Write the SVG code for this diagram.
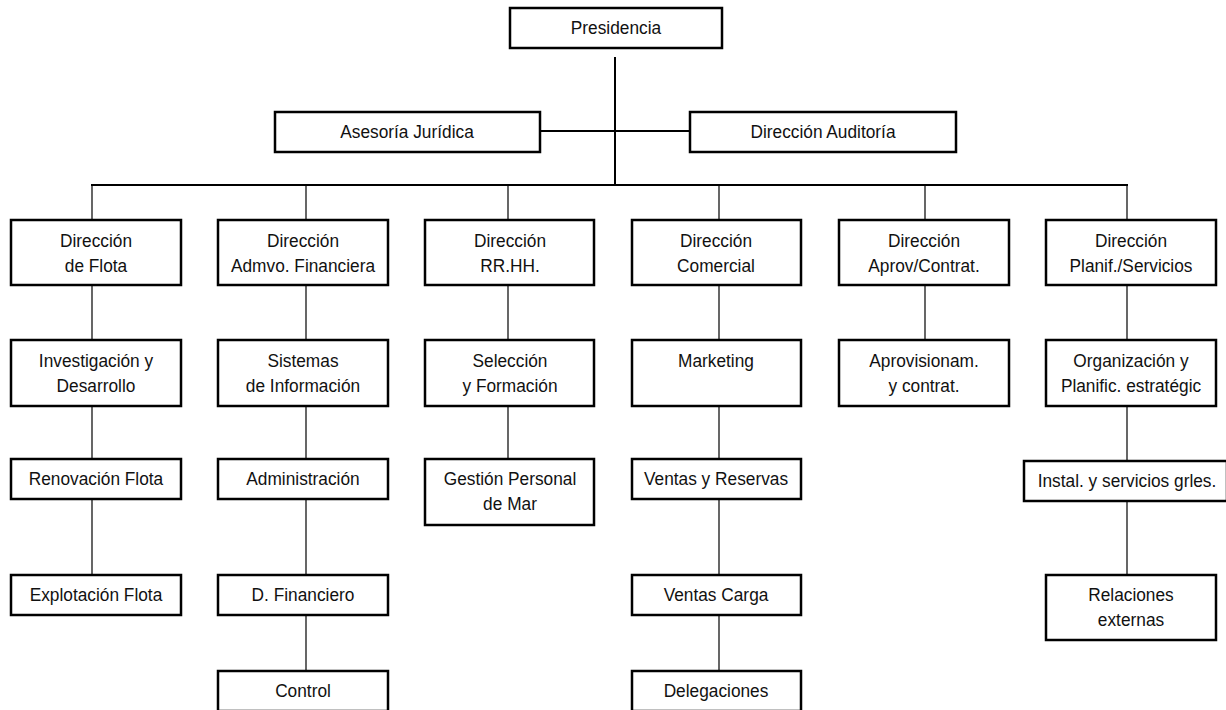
<svg xmlns="http://www.w3.org/2000/svg" width="1226" height="710" viewBox="0 0 1226 710">
<style>
.box{fill:#fff;stroke:#000;stroke-width:2.5}
.t{font-family:"Liberation Sans",Arial,sans-serif;font-size:18.5px;fill:#111;text-anchor:middle;transform-box:fill-box;transform-origin:center;transform:scaleX(0.935)}
.c{stroke:#000;stroke-width:1.2;fill:none}
.cb{stroke:#000;stroke-width:2;fill:none}
</style>
<rect width="1226" height="710" fill="#fff"/>
<g id="connectors">
<line class="cb" x1="615" y1="57" x2="615" y2="186"/>
<line class="cb" x1="541" y1="131" x2="689" y2="131"/>
<line class="cb" x1="91" y1="185" x2="1128" y2="185"/>
<line class="c" x1="92" y1="185" x2="92" y2="219"/>
<line class="c" x1="92" y1="286" x2="92" y2="339"/>
<line class="c" x1="92" y1="407" x2="92" y2="458"/>
<line class="c" x1="92" y1="500" x2="92" y2="574"/>
<line class="c" x1="306" y1="185" x2="306" y2="219"/>
<line class="c" x1="306" y1="286" x2="306" y2="339"/>
<line class="c" x1="306" y1="407" x2="306" y2="458"/>
<line class="c" x1="306" y1="500" x2="306" y2="574"/>
<line class="c" x1="306" y1="616" x2="306" y2="670"/>
<line class="c" x1="508" y1="185" x2="508" y2="219"/>
<line class="c" x1="508" y1="286" x2="508" y2="339"/>
<line class="c" x1="508" y1="407" x2="508" y2="458"/>
<line class="c" x1="719" y1="185" x2="719" y2="219"/>
<line class="c" x1="719" y1="286" x2="719" y2="339"/>
<line class="c" x1="719" y1="407" x2="719" y2="458"/>
<line class="c" x1="719" y1="500" x2="719" y2="574"/>
<line class="c" x1="719" y1="616" x2="719" y2="670"/>
<line class="c" x1="925" y1="185" x2="925" y2="219"/>
<line class="c" x1="925" y1="286" x2="925" y2="339"/>
<line class="c" x1="1127" y1="185" x2="1127" y2="219"/>
<line class="c" x1="1127" y1="286" x2="1127" y2="339"/>
<line class="c" x1="1127" y1="407" x2="1127" y2="460"/>
<line class="c" x1="1127" y1="502" x2="1127" y2="574"/>
</g>
<g id="presidencia"><rect class="box" x="510" y="8" width="212" height="40"/><text class="t" x="616" y="34">Presidencia</text></g>
<g id="asesoria"><rect class="box" x="275" y="112" width="265" height="40"/><text class="t" x="407" y="138">Asesoría Jurídica</text></g>
<g id="auditoria"><rect class="box" x="690" y="112" width="266" height="40"/><text class="t" x="823" y="138">Dirección Auditoría</text></g>

<g id="dir-flota"><rect class="box" x="11" y="220" width="170" height="65"/><text class="t" x="96" y="247">Dirección</text><text class="t" x="96" y="272">de Flota</text></g>
<g id="dir-admvo"><rect class="box" x="218" y="220" width="170" height="65"/><text class="t" x="303" y="247">Dirección</text><text class="t" x="303" y="272">Admvo. Financiera</text></g>
<g id="dir-rrhh"><rect class="box" x="425" y="220" width="169" height="65"/><text class="t" x="510" y="247">Dirección</text><text class="t" x="510" y="272">RR.HH.</text></g>
<g id="dir-comercial"><rect class="box" x="632" y="220" width="169" height="65"/><text class="t" x="716" y="247">Dirección</text><text class="t" x="716" y="272">Comercial</text></g>
<g id="dir-aprov"><rect class="box" x="839" y="220" width="170" height="65"/><text class="t" x="924" y="247">Dirección</text><text class="t" x="924" y="272">Aprov/Contrat.</text></g>
<g id="dir-planif"><rect class="box" x="1046" y="220" width="170" height="65"/><text class="t" x="1131" y="247">Dirección</text><text class="t" x="1131" y="272">Planif./Servicios</text></g>

<g id="investigacion"><rect class="box" x="11" y="340" width="170" height="66"/><text class="t" x="96" y="367">Investigación y</text><text class="t" x="96" y="392">Desarrollo</text></g>
<g id="sistemas"><rect class="box" x="218" y="340" width="170" height="66"/><text class="t" x="303" y="367">Sistemas</text><text class="t" x="303" y="392">de Información</text></g>
<g id="seleccion"><rect class="box" x="425" y="340" width="169" height="66"/><text class="t" x="510" y="367">Selección</text><text class="t" x="510" y="392">y Formación</text></g>
<g id="marketing"><rect class="box" x="632" y="340" width="169" height="66"/><text class="t" x="716" y="367">Marketing</text></g>
<g id="aprovisionam"><rect class="box" x="839" y="340" width="170" height="66"/><text class="t" x="924" y="367">Aprovisionam.</text><text class="t" x="924" y="392">y contrat.</text></g>
<g id="organizacion"><rect class="box" x="1046" y="340" width="170" height="66"/><text class="t" x="1131" y="367">Organización y</text><text class="t" x="1131" y="392">Planific. estratégic</text></g>

<g id="renovacion"><rect class="box" x="11" y="459" width="170" height="40"/><text class="t" x="96" y="485">Renovación Flota</text></g>
<g id="administracion"><rect class="box" x="218" y="459" width="170" height="40"/><text class="t" x="303" y="485">Administración</text></g>
<g id="gestion"><rect class="box" x="425" y="459" width="169" height="66"/><text class="t" x="510" y="485">Gestión Personal</text><text class="t" x="510" y="510">de Mar</text></g>
<g id="ventas-reservas"><rect class="box" x="632" y="459" width="169" height="40"/><text class="t" x="716" y="485">Ventas y Reservas</text></g>
<g id="instal"><rect class="box" x="1024" y="461" width="203" height="40"/><text class="t" x="1127" y="487">Instal. y servicios grles.</text></g>

<g id="explotacion"><rect class="box" x="11" y="575" width="170" height="40"/><text class="t" x="96" y="601">Explotación Flota</text></g>
<g id="financiero"><rect class="box" x="218" y="575" width="170" height="40"/><text class="t" x="303" y="601">D. Financiero</text></g>
<g id="ventas-carga"><rect class="box" x="632" y="575" width="169" height="40"/><text class="t" x="716" y="601">Ventas Carga</text></g>
<g id="relaciones"><rect class="box" x="1046" y="575" width="170" height="65"/><text class="t" x="1131" y="601">Relaciones</text><text class="t" x="1131" y="626">externas</text></g>

<g id="control"><rect class="box" x="218" y="671" width="170" height="40"/><text class="t" x="303" y="697">Control</text></g>
<g id="delegaciones"><rect class="box" x="632" y="671" width="169" height="40"/><text class="t" x="716" y="697">Delegaciones</text></g>
</svg>
